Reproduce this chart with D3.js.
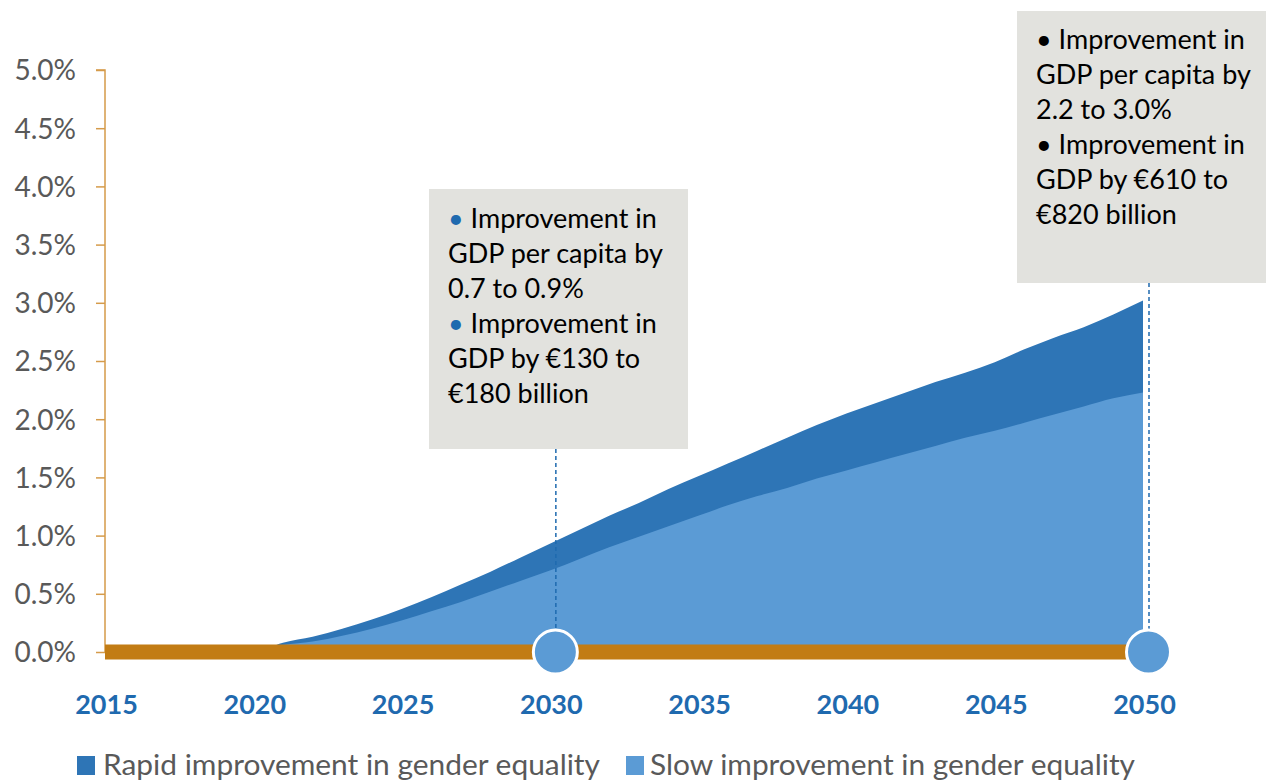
<!DOCTYPE html>
<html>
<head>
<meta charset="utf-8">
<script src="https://cdn.jsdelivr.net/npm/d3@7/dist/d3.min.js"></script>
<style>
  html, body { margin: 0; padding: 0; background: #fff; }
  svg { display: block; }
  text { font-family: Lato, "Open Sans", sans-serif; }
</style>
</head>
<body>
<svg id="chart" width="1266" height="780"></svg>
<script>
// ---- data ----
const years = [2015,2016,2017,2018,2019,2020,2021,2022,2023,2024,2025,2026,2027,2028,2029,2030,
               2031,2032,2033,2034,2035,2036,2037,2038,2039,2040,2041,2042,2043,2044,2045,2046,
               2047,2048,2049,2050];
// Rapid improvement in gender equality (% GDP per capita improvement)
const rapid = [0,0,0,0,0,0,0.08,0.13,0.20,0.28,0.37,0.47,0.58,0.69,0.81,0.93,
               1.05,1.17,1.28,1.40,1.51,1.62,1.73,1.84,1.95,2.05,2.14,2.23,2.32,2.40,2.49,2.60,
               2.70,2.79,2.90,3.02];
// Slow improvement in gender equality
const slow  = [0,0,0,0,0,0,0.06,0.09,0.14,0.20,0.27,0.35,0.43,0.52,0.61,0.70,
               0.80,0.90,0.99,1.08,1.17,1.26,1.34,1.41,1.49,1.56,1.63,1.70,1.77,1.84,1.90,1.97,
               2.04,2.11,2.18,2.23];
const yTicks = [0,0.5,1.0,1.5,2.0,2.5,3.0,3.5,4.0,4.5,5.0];
const xTicks = [2015,2020,2025,2030,2035,2040,2045,2050];
const seriesNames = ["Rapid improvement in gender equality", "Slow improvement in gender equality"];
const markers = [2030, 2050];
const boxTexts = [
  [["•","Improvement in"],["","GDP per capita by"],["","0.7 to 0.9%"],["•","Improvement in"],["","GDP by €130 to"],["","€180 billion"]],
  [["•","Improvement in"],["","GDP per capita by"],["","2.2 to 3.0%"],["•","Improvement in"],["","GDP by €610 to"],["","€820 billion"]]
];

// ---- styles ----
const C_DARK = "#2E75B6", C_LIGHT = "#5B9BD5", C_ORANGE = "#C27C14", C_AXIS = "#D59B4A";
const C_GREY = "#595959", C_BLUE = "#1F6AAF", C_BOX = "#E2E2DE";

const svg = d3.select("#chart");
const x = d3.scaleLinear().domain([2015, 2050]).range([105, 1143]);
const y = d3.scaleLinear().domain([0, 5]).range([652, 70]);

const data = years.map((yr, i) => ({yr, rapid: rapid[i], slow: slow[i]}));

// areas
const areaR = d3.area().x(d => x(d.yr)).y0(y(0)).y1(d => y(d.rapid)).curve(d3.curveMonotoneX);
const areaS = d3.area().x(d => x(d.yr)).y0(y(0)).y1(d => y(d.slow)).curve(d3.curveMonotoneX);
svg.append("path").datum(data).attr("d", areaR).attr("fill", C_DARK);
svg.append("path").datum(data).attr("d", areaS).attr("fill", C_LIGHT);

// y axis
const yAxis = d3.axisLeft(y).tickValues(yTicks).tickSize(9).tickPadding(20)
  .tickFormat(d => d.toFixed(1) + "%");
const gy = svg.append("g").attr("transform", `translate(${x(2015)},0)`).call(yAxis);
gy.select(".domain").attr("stroke", C_AXIS).attr("stroke-width", 1.5).attr("d", `M-9,${y(5)}H0V${y(0)}`);
gy.selectAll(".tick line").attr("stroke", C_AXIS).attr("stroke-width", 1.5);
gy.selectAll(".tick text").attr("fill", C_GREY).style("font-size", "28px")
  .style("font-family", "Lato, sans-serif").attr("dy", "0.35em");

// orange baseline band
svg.append("line").attr("x1", x(2015)).attr("x2", x(2050)).attr("y1", y(0)).attr("y2", y(0))
  .attr("stroke", C_ORANGE).attr("stroke-width", 15);

// x axis labels
const xAxis = d3.axisBottom(x).tickValues(xTicks).tickSize(0).tickPadding(0).tickFormat(d3.format("d"));
const gx = svg.append("g").attr("transform", `translate(1,${y(0)})`).call(xAxis);
gx.select(".domain").remove();
gx.selectAll(".tick text").attr("fill", C_BLUE).style("font-size", "27px").style("font-weight", "bold")
  .style("font-family", "Lato, sans-serif").attr("dy", "0").attr("y", 62);

// annotation boxes
const boxes = [
  {yr: 2030, x0: 429, y0: 189, w: 259, h: 260, tx: 448, ty: 228, bullet: C_BLUE},
  {yr: 2050, x0: 1017, y0: 11, w: 249, h: 272, tx: 1036, ty: 49, bullet: "#000"}
];
boxes.forEach((b, bi) => {
  svg.append("rect").attr("x", b.x0).attr("y", b.y0).attr("width", b.w).attr("height", b.h).attr("fill", C_BOX);
  const t = svg.append("text").attr("x", b.tx).attr("y", b.ty).style("font-size", "27px").attr("fill", "#000");
  boxTexts[bi].forEach((ln, li) => {
    const ts = t.append("tspan").attr("x", b.tx).attr("y", b.ty + li * 35);
    if (ln[0]) {
      ts.append("tspan").text("• ").attr("fill", b.bullet);
    }
    ts.append("tspan").text(ln[1]);
  });
  // dashed leader line
  svg.append("line").attr("x1", x(b.yr) + 6).attr("x2", x(b.yr) + 6)
    .attr("y1", b.y0 + b.h).attr("y2", y(0) - 22)
    .attr("stroke", C_BLUE).attr("stroke-width", 1.5).attr("stroke-dasharray", "4,3");
});

// circle markers
svg.selectAll("circle.marker").data(markers).enter().append("circle")
  .attr("class", "marker").attr("cx", d => x(d) + 5.5).attr("cy", y(0))
  .attr("r", 22).attr("fill", C_LIGHT).attr("stroke", "#fff").attr("stroke-width", 3);

// legend
const legend = [{name: seriesNames[0], color: C_DARK, sx: 77, tx: 103, w: 497},
                {name: seriesNames[1], color: C_LIGHT, sx: 626, tx: 650, w: 485}];
legend.forEach(l => {
  svg.append("rect").attr("x", l.sx).attr("y", 756).attr("width", 18).attr("height", 19).attr("fill", l.color);
  svg.append("text").attr("x", l.tx).attr("y", 775).attr("fill", C_GREY).style("font-size", "28.5px")
    .attr("textLength", l.w).attr("lengthAdjust", "spacingAndGlyphs").text(l.name);
});
</script>
</body>
</html>
